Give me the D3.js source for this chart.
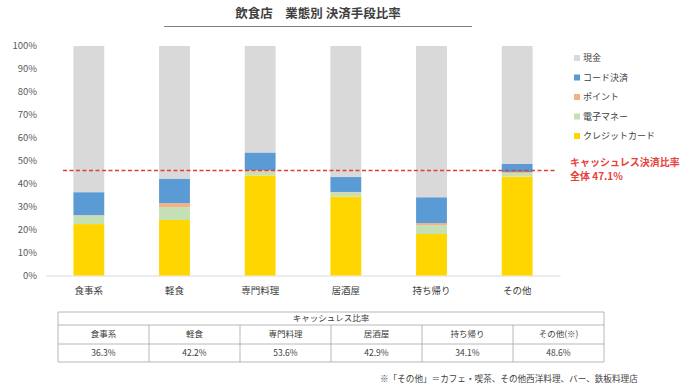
<!DOCTYPE html>
<html>
<head>
<meta charset="utf-8">
<script src="https://cdn.jsdelivr.net/npm/d3@7"></script>
<style>
  body { margin: 0; background: #fff; }
  svg text { font-family: "Noto Sans CJK JP", "Noto Sans", sans-serif; }
</style>
</head>
<body>
<div id="chart"></div>
<script>
// categories and series (percent)
var categories = ["食事系", "軽食", "専門料理", "居酒屋", "持ち帰り", "その他"];
var credit = [22.4, 24.2, 43.6, 34.4, 18.1, 43.1];
var emoney = [3.7, 5.6, 1.8, 1.8, 3.8, 1.6];
var point = [0.2, 1.7, 0.5, 0.2, 0.9, 0.4];
var code = [10.0, 10.7, 7.7, 6.5, 11.3, 3.5];
var cashlessRate = [36.3, 42.2, 53.6, 42.9, 34.1, 48.6];
var tableLabels = ["食事系", "軽食", "専門料理", "居酒屋", "持ち帰り", "その他(※)"];
var yTicks = [0, 10, 20, 30, 40, 50, 60, 70, 80, 90, 100];
var overallLine = 45.8;   // where the dashed line sits on the chart
var overallLabel = ["キャッシュレス決済比率", "全体 47.1%"];

var seriesKeys = ["credit", "emoney", "point", "code", "cash"];
var seriesNames = {cash: "現金", code: "コード決済", point: "ポイント", emoney: "電子マネー", credit: "クレジットカード"};
var legendOrder = ["cash", "code", "point", "emoney", "credit"];

// build rows for the stack
var rows = categories.map(function (c, i) {
  return {
    cat: c, credit: credit[i], emoney: emoney[i], point: point[i], code: code[i],
    cash: 100 - credit[i] - emoney[i] - point[i] - code[i]
  };
});

var width = 695, height = 390;
var svg = d3.select("#chart").append("svg")
  .attr("width", width).attr("height", height);

var color = d3.scaleOrdinal()
  .domain(seriesKeys)
  .range(["#ffd600", "#c5e0b4", "#f4b183", "#5b9bd5", "#d9d9d9"]);

var x = d3.scaleBand().domain(categories).range([46, 560]).paddingInner(0.64).paddingOuter(0.32);
var y = d3.scaleLinear().domain([0, 100]).range([275.5, 46]);

// title
svg.append("text").attr("x", 318).attr("y", 18).attr("text-anchor", "middle")
  .style("font-size", "12.5px").style("font-weight", "bold").style("fill", "#404040")
  .text("飲食店　業態別 決済手段比率");
svg.append("line").attr("x1", 164).attr("x2", 472).attr("y1", 26.5).attr("y2", 26.5)
  .attr("stroke", "#7f7f7f").attr("stroke-width", 1.2);

// y axis labels
svg.append("g").selectAll("text").data(yTicks).enter().append("text")
  .attr("x", 37).attr("y", function (d) { return y(d); }).attr("dy", "0.35em")
  .attr("text-anchor", "end").style("font-size", "9.5px").style("fill", "#595959")
  .text(function (d) { return d + "%"; });

// x axis
var xAxis = svg.append("g").attr("transform", "translate(0," + y(0) + ")")
  .call(d3.axisBottom(x).tickSize(0).tickSizeOuter(0).tickPadding(12));
xAxis.select(".domain").attr("stroke", "#d9d9d9");
xAxis.selectAll("text").style("font-size", "9.5px").style("fill", "#404040")
  .style("font-family", "'Noto Sans CJK JP', sans-serif");

// bars
var stacked = d3.stack().keys(seriesKeys)(rows);
svg.append("g").selectAll("g").data(stacked).enter().append("g")
  .attr("fill", function (d) { return color(d.key); })
  .selectAll("rect").data(function (d) { return d; }).enter().append("rect")
  .attr("x", function (d) { return x(d.data.cat); })
  .attr("y", function (d) { return y(d[1]); })
  .attr("height", function (d) { return y(d[0]) - y(d[1]); })
  .attr("width", x.bandwidth());

// overall dashed line
svg.append("line").attr("x1", 63).attr("x2", 555)
  .attr("y1", y(overallLine)).attr("y2", y(overallLine))
  .attr("stroke", "#e03c3c").attr("stroke-width", 1.5).attr("stroke-dasharray", "4,2.5");
svg.append("g").selectAll("text").data(overallLabel).enter().append("text")
  .attr("x", 570).attr("y", function (d, i) { return 166 + i * 13.5; })
  .style("font-size", "10px").style("font-weight", "bold").style("fill", "#e8413c")
  .text(function (d) { return d; });

// legend
var legend = svg.append("g").selectAll("g").data(legendOrder).enter().append("g")
  .attr("transform", function (d, i) { return "translate(574," + (58 + i * 19.5) + ")"; });
legend.append("rect").attr("x", 0).attr("y", -3).attr("width", 6).attr("height", 6)
  .attr("fill", function (d) { return color(d); });
legend.append("text").attr("x", 9).attr("dy", "0.35em")
  .style("font-size", "9px").style("fill", "#404040")
  .text(function (d) { return seriesNames[d]; });

// table
var tx0 = 58, tx1 = 604;
var rowY = [312, 325, 344, 362];
var col = d3.scaleBand().domain(tableLabels).range([tx0, tx1]);
var tbl = svg.append("g").attr("stroke", "#a6a6a6").attr("stroke-width", 0.8);
rowY.forEach(function (ry) {
  tbl.append("line").attr("x1", tx0).attr("x2", tx1).attr("y1", ry).attr("y2", ry);
});
tbl.append("line").attr("x1", tx0).attr("x2", tx0).attr("y1", rowY[0]).attr("y2", rowY[3]);
tbl.append("line").attr("x1", tx1).attr("x2", tx1).attr("y1", rowY[0]).attr("y2", rowY[3]);
tableLabels.slice(1).forEach(function (l) {
  tbl.append("line").attr("x1", col(l)).attr("x2", col(l)).attr("y1", rowY[1]).attr("y2", rowY[3]);
});
svg.append("text").attr("x", (tx0 + tx1) / 2).attr("y", (rowY[0] + rowY[1]) / 2).attr("dy", "0.35em")
  .attr("text-anchor", "middle").style("font-size", "8.5px").style("fill", "#404040")
  .text("キャッシュレス比率");
svg.append("g").selectAll("text").data(tableLabels).enter().append("text")
  .attr("x", function (d) { return col(d) + col.bandwidth() / 2; })
  .attr("y", (rowY[1] + rowY[2]) / 2).attr("dy", "0.35em")
  .attr("text-anchor", "middle").style("font-size", "8.5px").style("fill", "#404040")
  .text(function (d) { return d; });
svg.append("g").selectAll("text").data(cashlessRate).enter().append("text")
  .attr("x", function (d, i) { return col(tableLabels[i]) + col.bandwidth() / 2; })
  .attr("y", (rowY[2] + rowY[3]) / 2).attr("dy", "0.35em")
  .attr("text-anchor", "middle").style("font-size", "8.5px").style("fill", "#404040")
  .text(function (d) { return d.toFixed(1) + "%"; });

// footnote
svg.append("text").attr("x", 380).attr("y", 382)
  .style("font-size", "8.6px").style("fill", "#404040")
  .text("※「その他」＝カフェ・喫茶、その他西洋料理、バー、鉄板料理店");
</script>
</body>
</html>
